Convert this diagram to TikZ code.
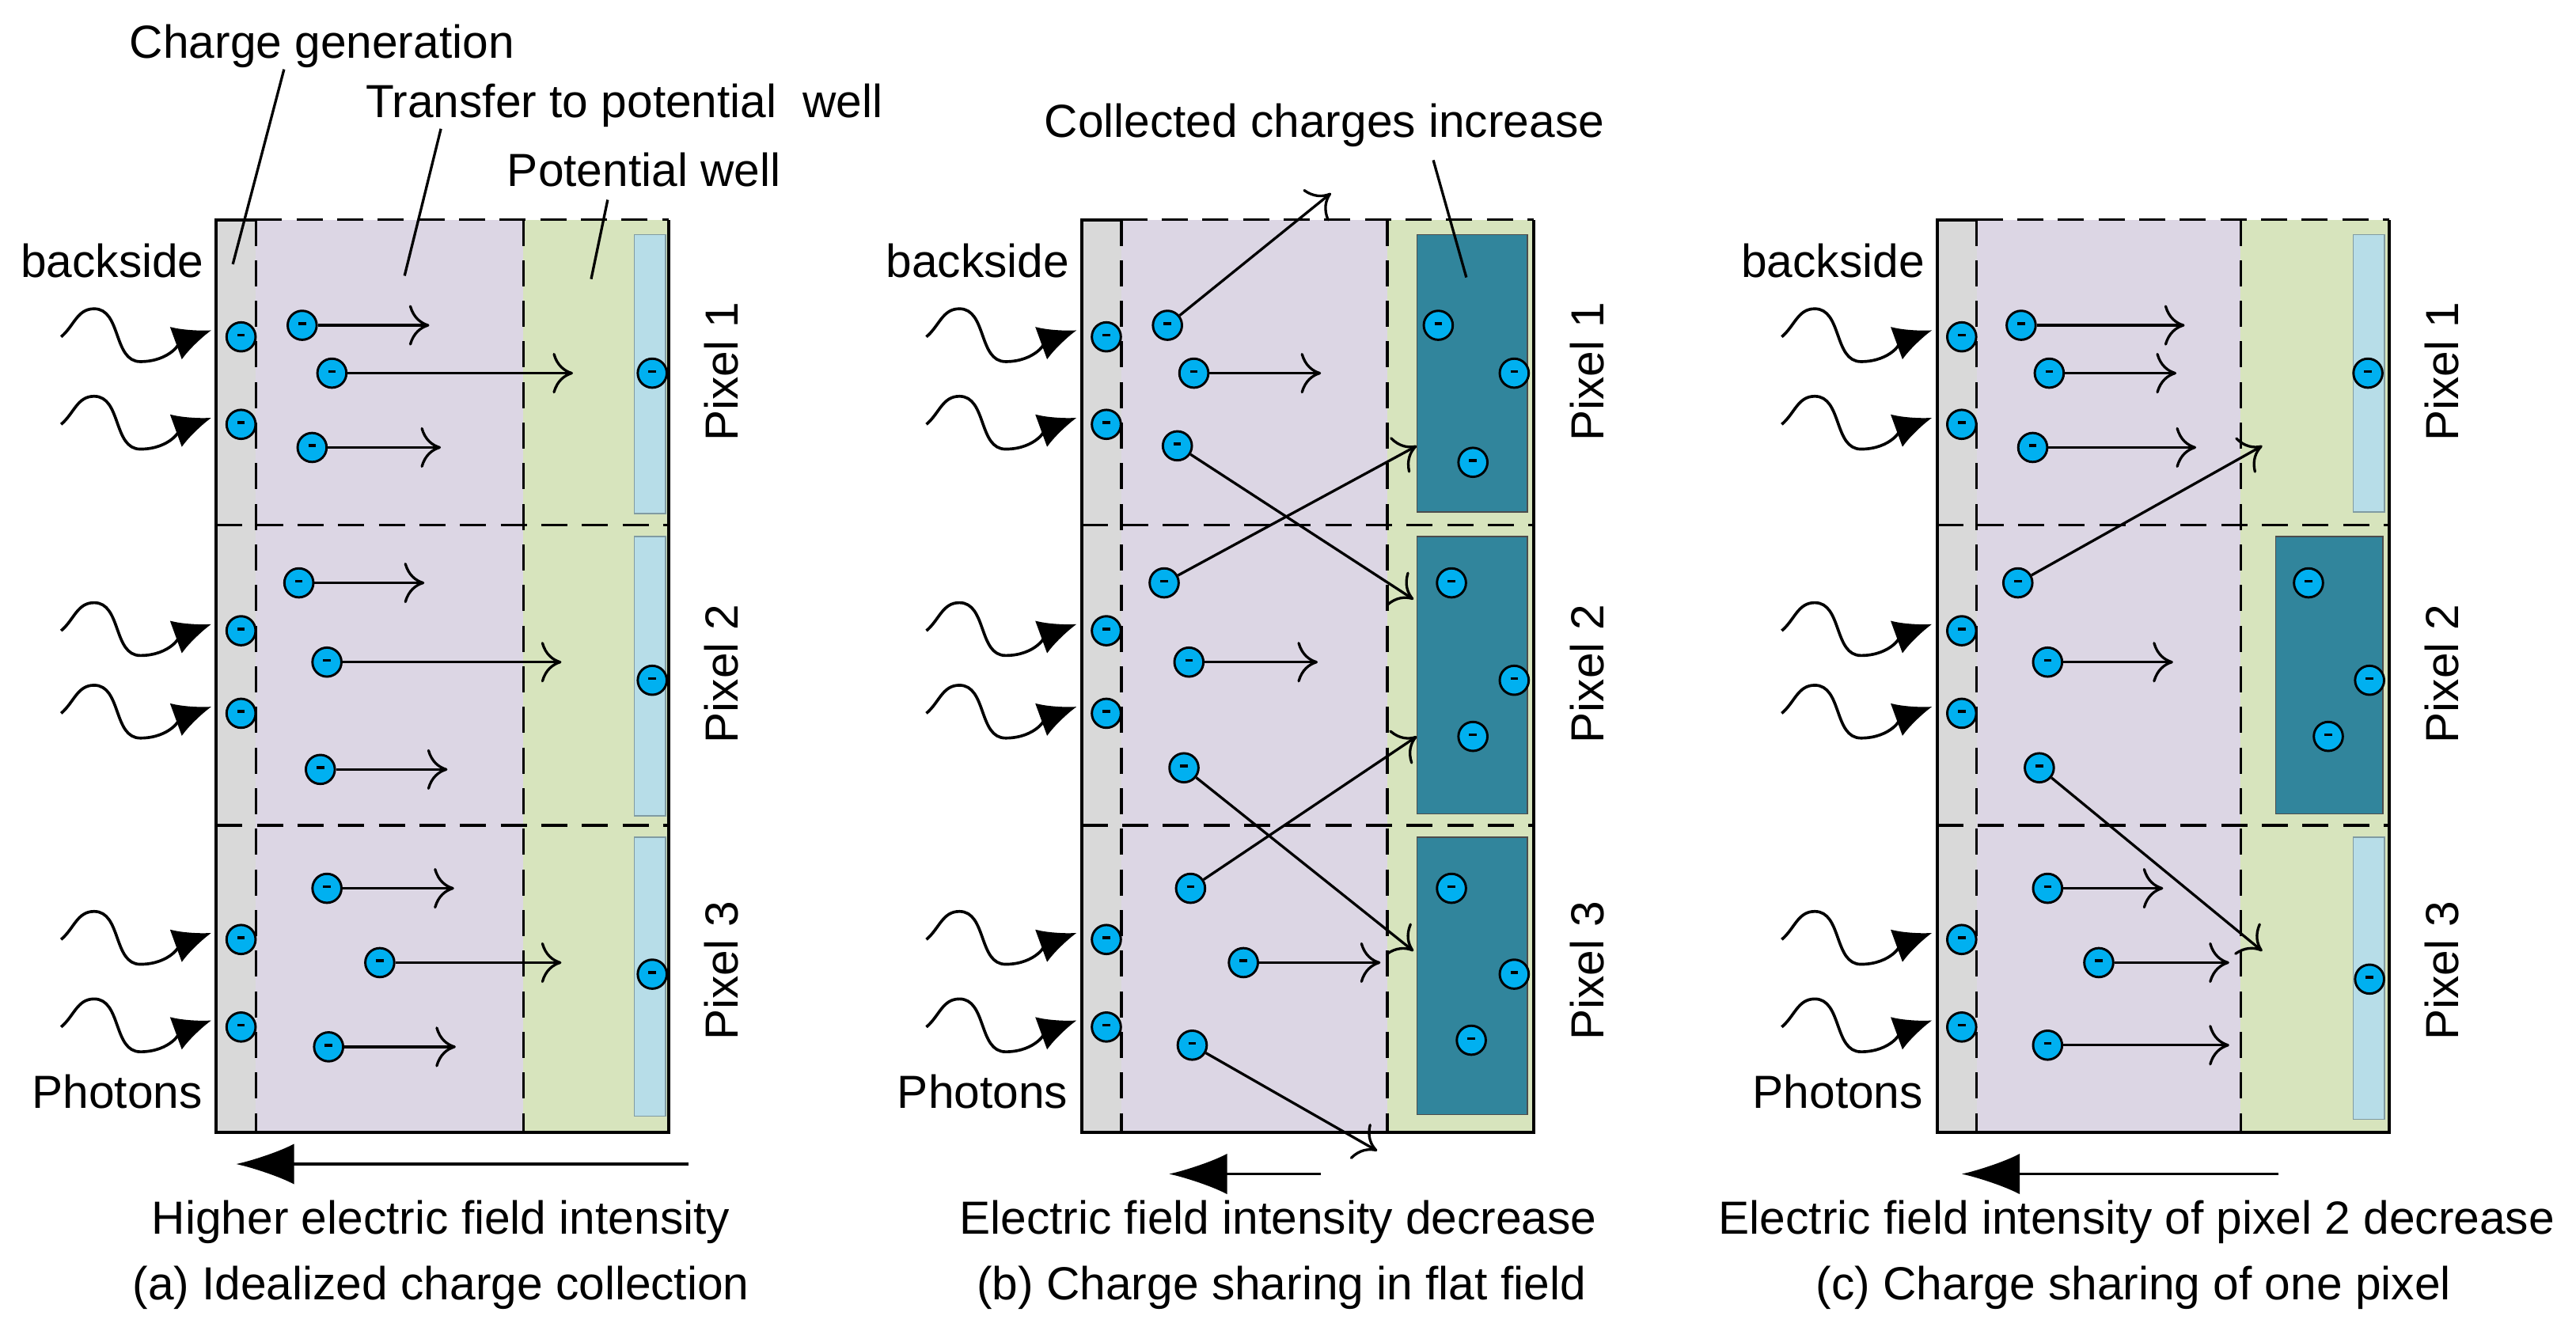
\documentclass[tikz,border=0pt]{standalone}
\usepackage{fontspec}
\setmainfont{Liberation Sans}
\usetikzlibrary{arrows.meta}
\definecolor{gengray}{HTML}{D9D9D9}
\definecolor{driftpurple}{HTML}{DCD6E4}
\definecolor{wellgreen}{HTML}{D7E4BD}
\definecolor{welllight}{HTML}{B7DDE8}
\definecolor{welldark}{HTML}{31859C}
\definecolor{elec}{HTML}{00B0F0}
\newcommand{\eminus}{\rule[1.2pt]{2.6pt}{1pt}}
\tikzset{
  electron/.style={circle, draw, line width=0.8pt, fill=elec, minimum size=10pt, inner sep=0pt,
    text depth=0pt},
  drift/.style={-{To[length=7pt,width=14pt]}, line width=0.9pt},
  photon/.style={-{Latex[length=13pt,width=12pt]}, line width=1pt},
  field/.style={-{Latex[length=20pt,width=14pt]}, line width=1pt},
  sep/.style={dashed, dash pattern=on 9pt off 5pt, line width=1pt},
  lbl/.style={font=\fontsize{16}{18}\selectfont, inner sep=1pt},
}
\begin{document}
\begin{tikzpicture}[x=0.02cm, y=-0.02cm]
  \useasboundingbox (0,0) rectangle (1560,806);

  % Trois panneaux
  \foreach \p/\dx/\mid in {a/0/317, b/524/316, c/1042/315} {
    \begin{scope}[xshift=\dx*0.02cm]
      \fill[gengray] (131,133) rectangle (155,686);
      \fill[driftpurple] (155,133) rectangle (\mid,686);
      \fill[wellgreen] (\mid,133) rectangle (405,686);
      \draw[line width=1.1pt] (155,133) -- (131,133) -- (131,686) -- (405,686) -- (405,133);
      \draw[sep] (155,133) -- (405,133);
      \draw[sep] (155,133) -- (155,686);
      \draw[sep] (\mid,133) -- (\mid,686);
      \draw[sep] (131,318) -- (405,318);
      \draw[sep] (131,500) -- (405,500);
      % Photons
      \foreach \y [count=\i] in {200, 253, 378, 428, 565, 618} {
        \coordinate (ph\p\i) at (37,\y+4);
        \coordinate (hit\p\i) at (128,\y);
        \draw[photon] (ph\p\i) to[out=40, in=180] ++(20,-17)
          to[out=0, in=180] ++(28,32) to[out=0, in=200] (hit\p\i);
        \node[electron] (g\p\i) at (146,\y+4) {\eminus};
      }
      \foreach \y/\t in {225/1, 408/2, 588/3}
        \node[lbl, rotate=90] (pix\p\t) at (437,\y) {Pixel \t};
      \node[lbl] (back\p) at (68,158) {backside};
      \node[lbl] (phot\p) at (71,661) {Photons};
    \end{scope}
  }

  % (a) Collection ideale
  \foreach \y in {142, 325, 507}
    \draw[welllight!70!black, fill=welllight] (384,\y) rectangle (403,\y+169);
  \foreach \x/\y/\ex/\n in {183/197/260/1, 201/226/347/2, 189/271/267/3,
      181/353/257/4, 198/401/340/5, 194/466/271/6,
      198/538/275/7, 230/583/340/8, 199/634/276/9} {
    \node[electron] (da\n) at (\x,\y) {\eminus};
    \coordinate (ta\n) at (\ex,\y);
    \draw[drift] (da\n) -- (ta\n);
  }
  \foreach \y [count=\i] in {226, 412, 590}
    \node[electron] (wa\i) at (395,\y) {\eminus};
  \node[lbl] (gen) at (195,28) {Charge generation};
  \node[lbl] (trans) at (378,64) {Transfer to potential\ \ well};
  \node[lbl] (well) at (390,103) {Potential well};
  \coordinate (genp) at (141,160);
  \coordinate (transp) at (245,167);
  \coordinate (wellp) at (358,169);
  \draw[line width=0.9pt] (172,42) -- (genp);
  \draw[line width=0.9pt] (267,78) -- (transp);
  \draw[line width=0.9pt] (368,121) -- (wellp);
  \coordinate (fa1) at (417,705);
  \coordinate (fa2) at (143,705);
  \draw[field] (fa1) -- (fa2);
  \node[lbl] (fieldA) at (267,740) {Higher electric field intensity};
  \node[lbl] (capA) at (267,780) {(a) Idealized charge collection};

  % (b) Partage en champ plat
  \foreach \y in {142, 325, 507}
    \draw[black!70, fill=welldark] (858,\y) rectangle (925,\y+168);
  \foreach \x/\y/\ex/\ey/\n in {707/197/806/117/1, 723/226/800/226/2, 713/270/856/363/3,
      705/353/858/270/4, 720/401/798/401/5, 717/465/856/576/6,
      721/538/858/446/7, 753/583/836/583/8, 722/633/834/697/9} {
    \node[electron] (db\n) at (\x,\y) {\eminus};
    \coordinate (tb\n) at (\ex,\ey);
    \draw[drift] (db\n) -- (tb\n);
  }
  \foreach \x/\y [count=\i] in {871/197, 917/226, 892/280, 879/353, 917/412, 892/446,
      879/538, 917/590, 891/630}
    \node[electron] (wb\i) at (\x,\y) {\eminus};
  \node[lbl] (coll) at (802,76) {Collected charges increase};
  \coordinate (collp) at (888,168);
  \draw[line width=0.9pt] (868,97) -- (collp);
  \coordinate (fb1) at (800,711);
  \coordinate (fb2) at (708,711);
  \draw[field] (fb1) -- (fb2);
  \node[lbl] (fieldB) at (774,740) {Electric field intensity decrease};
  \node[lbl] (capB) at (776,780) {(b) Charge sharing in flat field};

  % (c) Partage d'un seul pixel
  \draw[welllight!70!black, fill=welllight] (1425,142) rectangle (1444,310);
  \draw[welllight!70!black, fill=welllight] (1425,507) rectangle (1444,678);
  \draw[black!70, fill=welldark] (1378,325) rectangle (1443,493);
  \foreach \x/\y/\ex/\ey/\n in {1224/197/1323/197/1, 1241/226/1318/226/2, 1231/271/1330/271/3,
      1222/353/1370/270/4, 1240/401/1316/401/5, 1235/465/1370/576/6,
      1240/538/1310/538/7, 1271/583/1350/583/8, 1240/633/1350/633/9} {
    \node[electron] (dc\n) at (\x,\y) {\eminus};
    \coordinate (tc\n) at (\ex,\ey);
    \draw[drift] (dc\n) -- (tc\n);
  }
  \foreach \x/\y [count=\i] in {1434/226, 1398/353, 1435/412, 1410/446, 1435/593}
    \node[electron] (wc\i) at (\x,\y) {\eminus};
  \coordinate (fc1) at (1380,711);
  \coordinate (fc2) at (1188,711);
  \draw[field] (fc1) -- (fc2);
  \node[lbl] (fieldC) at (1294,740) {Electric field intensity of pixel 2 decrease};
  \node[lbl] (capC) at (1292,780) {(c) Charge sharing of one pixel};
\end{tikzpicture}
\end{document}
